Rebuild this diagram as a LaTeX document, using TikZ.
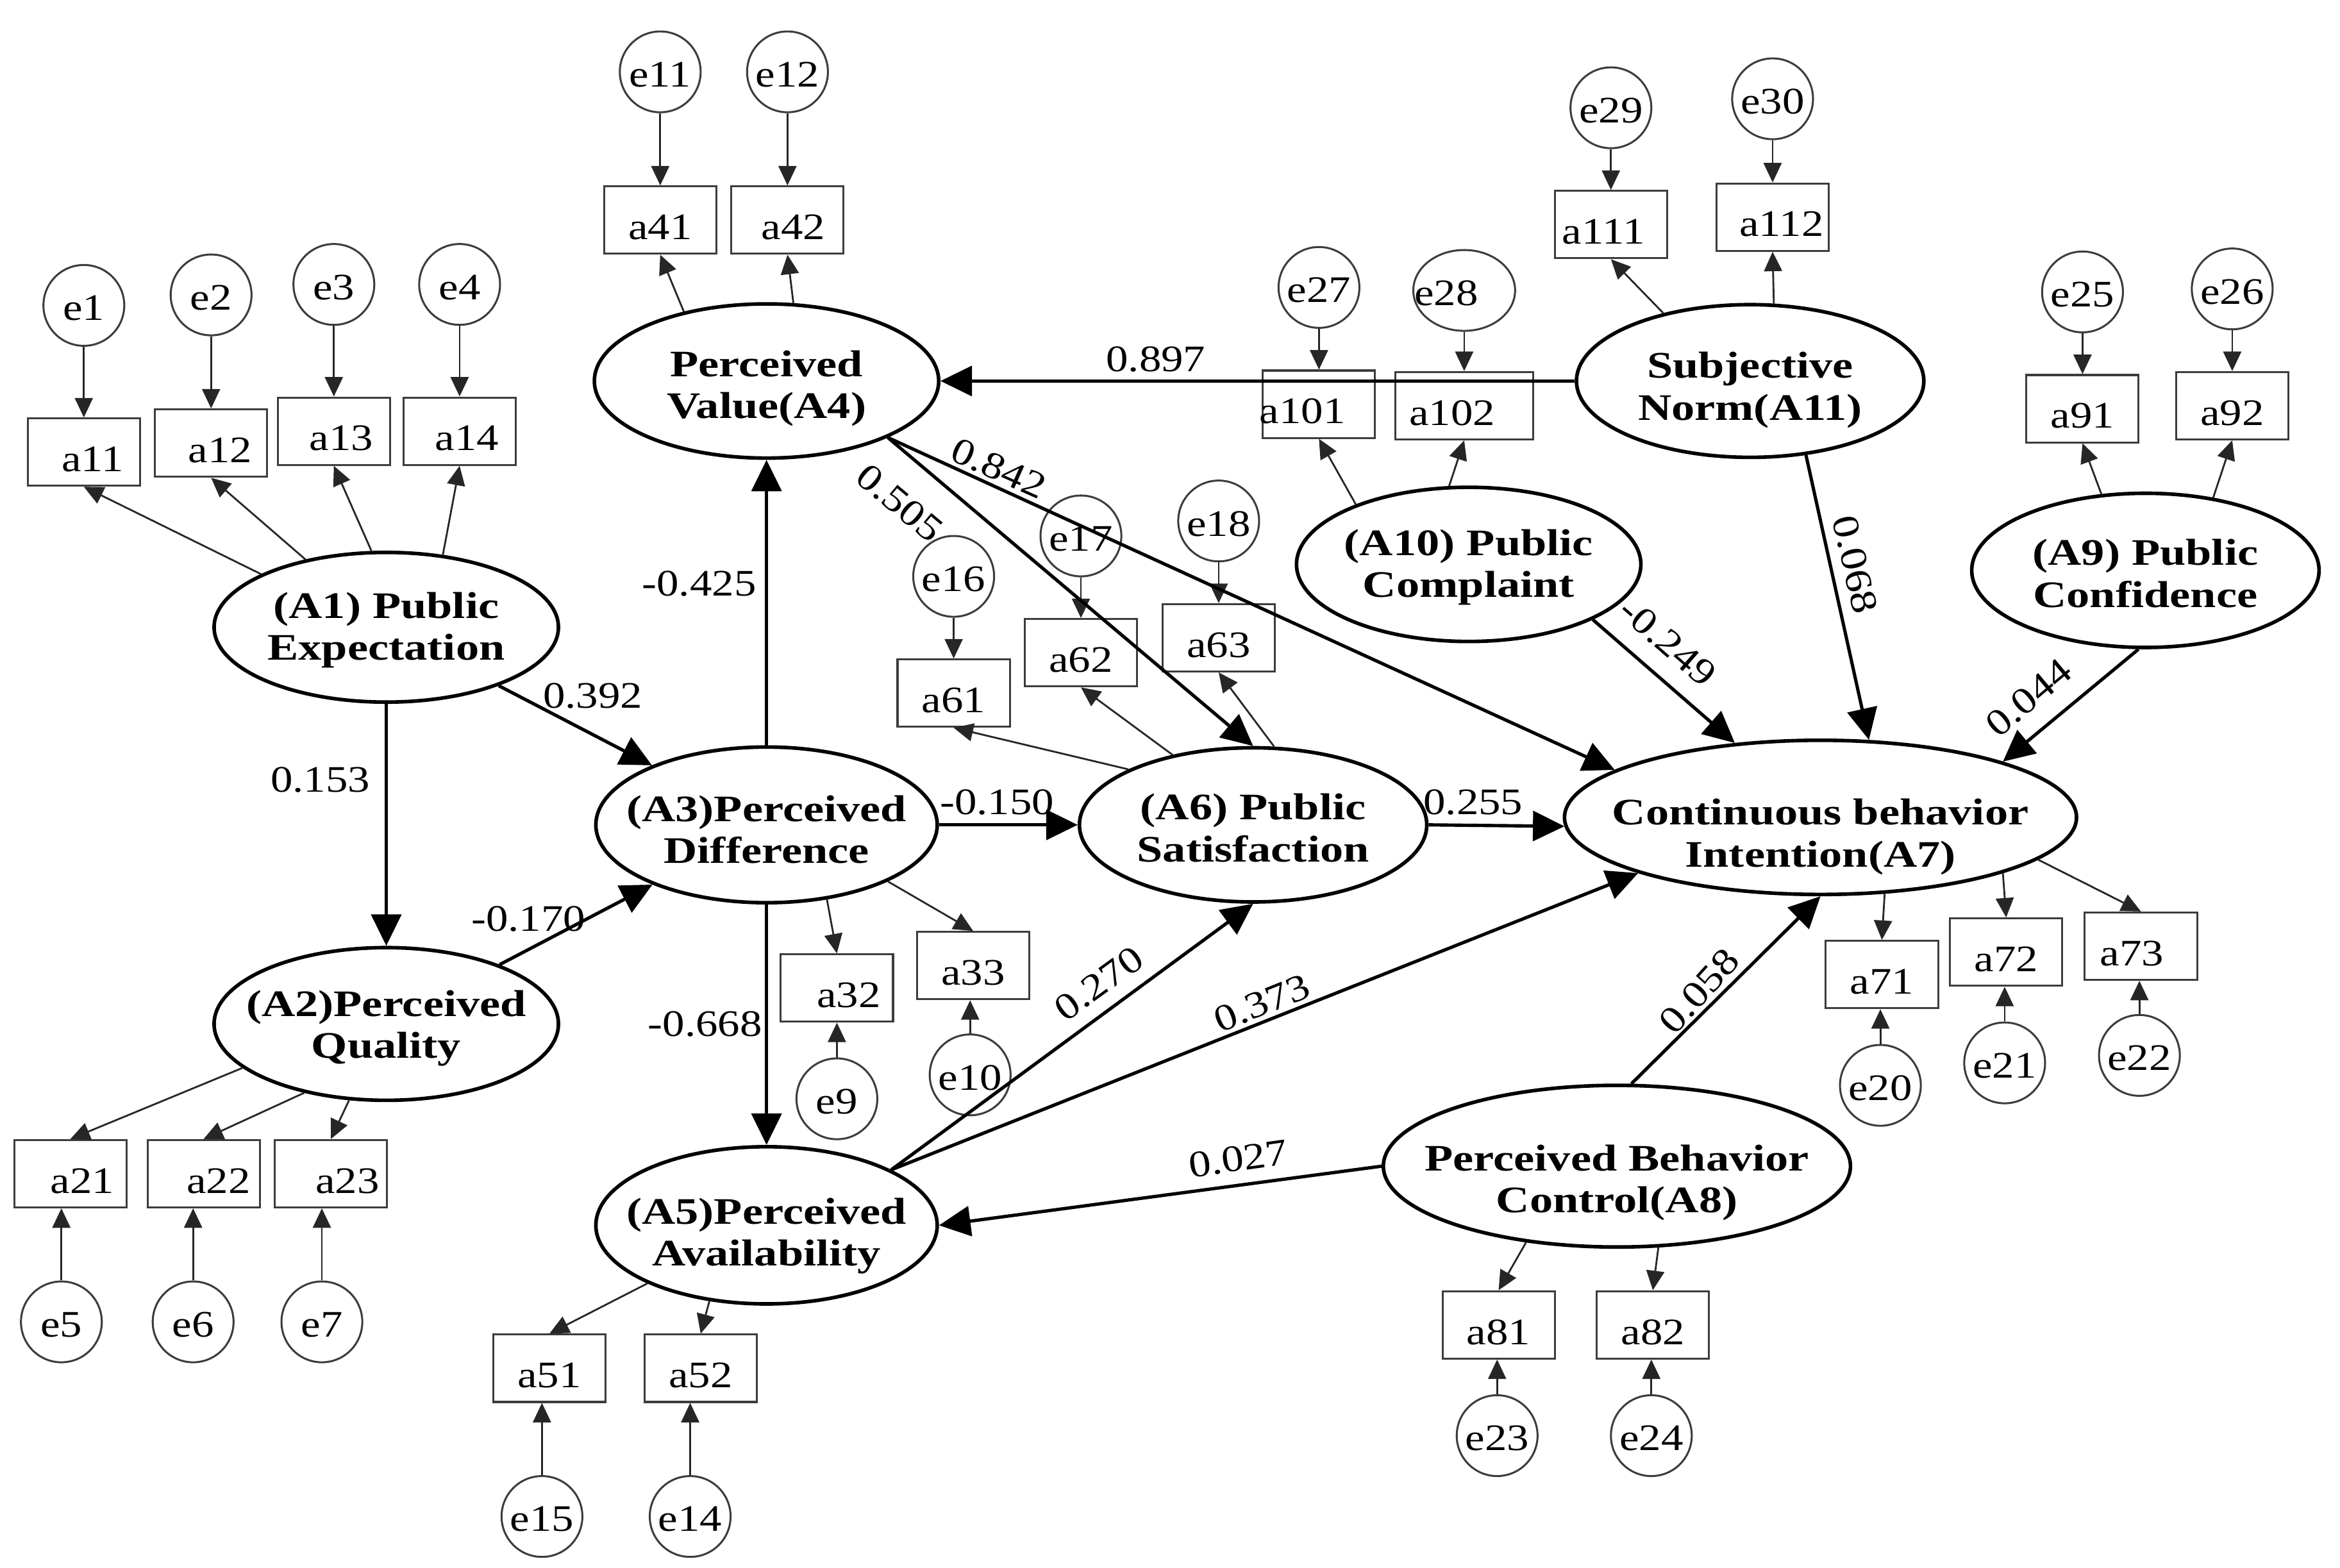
\documentclass[tikz,border=0pt]{standalone}
\usepackage{fontspec}
\usetikzlibrary{arrows.meta,shapes.geometric,calc}
\newfontfamily\numfont{Liberation Serif}[FakeStretch=1.18]
\newfontfamily\latfont{Liberation Serif}[FakeStretch=1.24]
\definecolor{obs}{RGB}{60,60,60}
\newcommand\sx[2]{\makebox[0pt]{\hspace*{#1}#2}}
\tikzset{
  latent/.style={ellipse, draw=black, line width=2.4pt, inner sep=0pt},
  lattext/.style={align=center, inner sep=0pt, font=\latfont\bfseries\fontsize{25}{28}\selectfont},
  obsbox/.style={rectangle, draw=obs, line width=1.3pt, minimum width=75pt, minimum height=45pt,
    inner sep=0pt, text height=26pt, text depth=0pt, font=\numfont\fontsize{25}{28}\selectfont},
  errc/.style={circle, draw=obs, line width=1.3pt, minimum size=54pt, inner sep=0pt,
    text height=20pt, text depth=0pt, font=\numfont\fontsize{25}{28}\selectfont},
  struct/.style={line width=2.2pt, -{Triangle[length=21pt,width=20pt]}},
  meas/.style={line width=1.2pt, draw=black!85, -{Triangle[length=13pt,width=12pt]}},
  coef/.style={inner sep=0pt, font=\numfont\fontsize{25}{28}\selectfont},
}
\begin{document}
\begin{tikzpicture}[x=1pt,y=-1pt]
\fill[white] (0,0) rectangle (1563,1047);
\useasboundingbox (0,0) rectangle (1563,1047);

% ---------- latent variables ----------
\node[latent, minimum width=230pt, minimum height=100pt] (A1) at (258,419) {};
\node[lattext] (A1t) at ([yshift=-2pt]A1.center) {(A1) Public\\Expectation};
\node[latent, minimum width=230pt, minimum height=102pt] (A2) at (258,684) {};
\node[lattext] (A2t) at ([yshift=-3pt]A2.center) {(A2)Perceived\\Quality};
\node[latent, minimum width=228pt, minimum height=104pt] (A3) at (512,551) {};
\node[lattext] (A3t) at ([yshift=-3pt]A3.center) {(A3)Perceived\\Difference};
\node[latent, minimum width=230pt, minimum height=103pt] (A4) at (512,254.5) {};
\node[lattext] (A4t) at ([yshift=-5pt]A4.center) {Perceived\\Value(A4)};
\node[latent, minimum width=228pt, minimum height=105pt] (A5) at (512,818.5) {};
\node[lattext] (A5t) at ([yshift=-7pt]A5.center) {(A5)Perceived\\Availability};
\node[latent, minimum width=232pt, minimum height=103pt] (A6) at (837,551) {};
\node[lattext] (A6t) at ([yshift=-2pt]A6.center) {(A6) Public\\Satisfaction};
\node[latent, minimum width=342pt, minimum height=103pt] (A7) at (1216,546) {};
\node[lattext] (A7t) at ([yshift=-13pt]A7.center) {Continuous behavior\\Intention(A7)};
\node[latent, minimum width=312pt, minimum height=108pt] (A8) at (1080,779) {};
\node[lattext] (A8t) at ([yshift=-11pt]A8.center) {Perceived Behavior\\Control(A8)};
\node[latent, minimum width=232pt, minimum height=103pt] (A9) at (1433,381) {};
\node[lattext] (A9t) at ([yshift=-2pt]A9.center) {(A9) Public\\Confidence};
\node[latent, minimum width=230pt, minimum height=103pt] (A10) at (981,377) {};
\node[lattext] (A10t) at ([yshift=-2pt]A10.center) {(A10) Public\\Complaint};
\node[latent, minimum width=232pt, minimum height=102pt] (A11) at (1169,254.5) {};
\node[lattext] (A11t) at ([yshift=-6pt]A11.center) {Subjective\\Norm(A11)};

% ---------- observed indicators ----------
\node[obsbox] (a11) at (56,302) {\sx{12pt}{a11}};
\node[obsbox] (a12) at (141,296) {\sx{12pt}{a12}};
\node[obsbox] (a13) at (223,288) {\sx{10pt}{a13}};
\node[obsbox] (a14) at (307,288) {\sx{10pt}{a14}};
\node[obsbox] (a41) at (441,147) {a41};
\node[obsbox] (a42) at (526,147) {\sx{8pt}{a42}};
\node[obsbox] (a101) at (881,270) {\sx{-22pt}{a101}};
\node[obsbox, minimum width=92pt] (a102) at (978,271) {\sx{-16pt}{a102}};
\node[obsbox] (a111) at (1076,150) {\sx{-10pt}{a111}};
\node[obsbox] (a112) at (1184,145) {\sx{12pt}{a112}};
\node[obsbox] (a91) at (1391,273) {a91};
\node[obsbox] (a92) at (1491,271) {a92};
\node[obsbox] (a61) at (637,463) {a61};
\node[obsbox] (a62) at (722,436) {a62};
\node[obsbox] (a63) at (814,426) {a63};
\node[obsbox] (a32) at (559,660) {\sx{16pt}{a32}};
\node[obsbox] (a33) at (650,645) {a33};
\node[obsbox] (a21) at (47,784) {\sx{16pt}{a21}};
\node[obsbox] (a22) at (136,784) {\sx{20pt}{a22}};
\node[obsbox] (a23) at (221,784) {\sx{22pt}{a23}};
\node[obsbox] (a51) at (367,914) {a51};
\node[obsbox] (a52) at (468,914) {a52};
\node[obsbox] (a71) at (1257,651) {a71};
\node[obsbox] (a72) at (1340,636) {a72};
\node[obsbox] (a73) at (1430,632) {\sx{-12pt}{a73}};
\node[obsbox] (a81) at (1001,885) {a81};
\node[obsbox] (a82) at (1104,885) {a82};

% ---------- error terms ----------
\node[errc] (e1) at (56,204) {e1};
\node[errc] (e2) at (141,197) {e2};
\node[errc] (e3) at (223,190) {e3};
\node[errc] (e4) at (307,190) {e4};
\node[errc] (e11) at (441,48) {e11};
\node[errc] (e12) at (526,48) {e12};
\node[errc] (e29) at (1076,72) {e29};
\node[errc] (e30) at (1184,66) {e30};
\node[errc] (e27) at (881,192) {e27};
\node[errc, ellipse, minimum width=68pt, minimum height=54pt] (e28) at (978,194) {\sx{-24pt}{e28}};
\node[errc] (e25) at (1391,195) {e25};
\node[errc] (e26) at (1491,193) {e26};
\node[errc] (e16) at (637,385) {e16};
\node[errc] (e17) at (722,358) {e17};
\node[errc] (e18) at (814,348) {e18};
\node[errc] (e9) at (559,734) {e9};
\node[errc] (e10) at (648,718) {e10};
\node[errc] (e5) at (41,883) {e5};
\node[errc] (e6) at (129,883) {e6};
\node[errc] (e7) at (215,883) {e7};
\node[errc] (e15) at (362,1013) {e15};
\node[errc] (e14) at (461,1013) {e14};
\node[errc] (e20) at (1256,725) {e20};
\node[errc] (e21) at (1339,710) {e21};
\node[errc] (e22) at (1429,705) {e22};
\node[errc] (e23) at (1000,959) {e23};
\node[errc] (e24) at (1103,959) {e24};

% ---------- measurement paths ----------
\draw[meas] (A1.157) -- (a11.south);
\draw[meas] (A1.140) -- (a12.south);
\draw[meas] (A1.101) -- (a13.south);
\draw[meas] (A1.52) -- (a14.south);
\draw[meas] (A4.140) -- (a41.south);
\draw[meas] (A4.71) -- (a42.south);
\draw[meas] (A11.142) -- (a111.south);
\draw[meas] (A11.73) -- (a112.south);
\draw[meas] (A10.152) -- (a101.south);
\draw[meas] (A10.104) -- (a102.south);
\draw[meas] (A9.120) -- (a91.south);
\draw[meas] (A9.47) -- (a92.south);
\draw[meas] (A6.156) -- (a61.south);
\draw[meas] (A6.139) -- (a62.south);
\draw[meas] (A6.75) -- (a63.south);
\draw[meas] (A3.-51) -- (a32.north);
\draw[meas] (A3.-25) -- (a33.north);
\draw[meas] (A2.197) -- (a21.north);
\draw[meas] (A2.220) -- (a22.north);
\draw[meas] (A2.244) -- (a23.north);
\draw[meas] (A5.206) -- (a51.north);
\draw[meas] (A5.233) -- (a52.north);
\draw[meas] (A7.-50) -- (a71.north);
\draw[meas] (A7.-17) -- (a72.north);
\draw[meas] (A7.-11) -- (a73.north);
\draw[meas] (A8.220) -- (a81.north);
\draw[meas] (A8.-63) -- (a82.north);

% errors into indicators (from above)
\draw[meas] (e1) -- (e1 |- a11.north);
\draw[meas] (e2) -- (e2 |- a12.north);
\draw[meas] (e3) -- (e3 |- a13.north);
\draw[meas] (e4) -- (e4 |- a14.north);
\draw[meas] (e11) -- (e11 |- a41.north);
\draw[meas] (e12) -- (e12 |- a42.north);
\draw[meas] (e29) -- (e29 |- a111.north);
\draw[meas] (e30) -- (e30 |- a112.north);
\draw[meas] (e27) -- (e27 |- a101.north);
\draw[meas] (e28) -- (e28 |- a102.north);
\draw[meas] (e25) -- (e25 |- a91.north);
\draw[meas] (e26) -- (e26 |- a92.north);
\draw[meas] (e16) -- (e16 |- a61.north);
\draw[meas] (e17) -- (e17 |- a62.north);
\draw[meas] (e18) -- (e18 |- a63.north);
% errors into indicators (from below)
\draw[meas] (e9) -- (e9 |- a32.south);
\draw[meas] (e10) -- (e10 |- a33.south);
\draw[meas] (e5) -- (e5 |- a21.south);
\draw[meas] (e6) -- (e6 |- a22.south);
\draw[meas] (e7) -- (e7 |- a23.south);
\draw[meas] (e15) -- (e15 |- a51.south);
\draw[meas] (e14) -- (e14 |- a52.south);
\draw[meas] (e20) -- (e20 |- a71.south);
\draw[meas] (e21) -- (e21 |- a72.south);
\draw[meas] (e22) -- (e22 |- a73.south);
\draw[meas] (e23) -- (e23 |- a81.south);
\draw[meas] (e24) -- (e24 |- a82.south);

% ---------- structural paths ----------
\draw[struct] (A1) -- (A2);
\draw[struct] (A1) -- (A3);
\draw[struct] (A2) -- (A3);
\draw[struct] (A3) -- (A4);
\draw[struct] (A3) -- (A5);
\draw[struct] (A3) -- (A6);
\draw[struct] (A4.-25) -- (A6.north);
\draw[struct] (A4.-25) -- (A7.167);
\draw[struct] (A11) -- (A4);
\draw[struct] (A11.-53) -- (A7.58);
\draw[struct] (A10.-24) -- (A7);
\draw[struct] (A9.-95) -- (A7.17);
\draw[struct] (A6.east) -- (A7.182);
\draw[struct] (A5.24) -- (A6.south);
\draw[struct] (A5.24) -- (A7.197);
\draw[struct] (A8.west) -- (A5.east);
\draw[struct] (A8.80) -- (A7.south);

% ---------- coefficients ----------
\node[coef] (c1) at (214,521) {0.153};
\node[coef] (c2) at (396,465) {0.392};
\node[coef] (c3) at (353,614) {-0.170};
\node[coef] (c4) at (467,390) {-0.425};
\node[coef] (c5) at (471,684) {-0.668};
\node[coef] (c6) at (666,536) {-0.150};
\node[coef] (c7) at (984,536) {0.255};
\node[coef] (c8) at (772,240) {0.897};
\node[coef, rotate=-24] (c9) at (667,313) {0.842};
\node[coef, rotate=-40] (c10) at (601,336) {0.505};
\node[coef, rotate=-41] (c11) at (1114,429) {-0.249};
\node[coef, rotate=-77] (c12) at (1239,377) {0.068};
\node[coef, rotate=40] (c13) at (1355,466) {0.044};
\node[coef, rotate=36] (c14) at (734,657) {0.270};
\node[coef, rotate=22] (c15) at (843,670) {0.373};
\node[coef, rotate=8] (c16) at (827,774) {0.027};
\node[coef, rotate=48] (c17) at (1135,662) {0.058};
\end{tikzpicture}
\end{document}
